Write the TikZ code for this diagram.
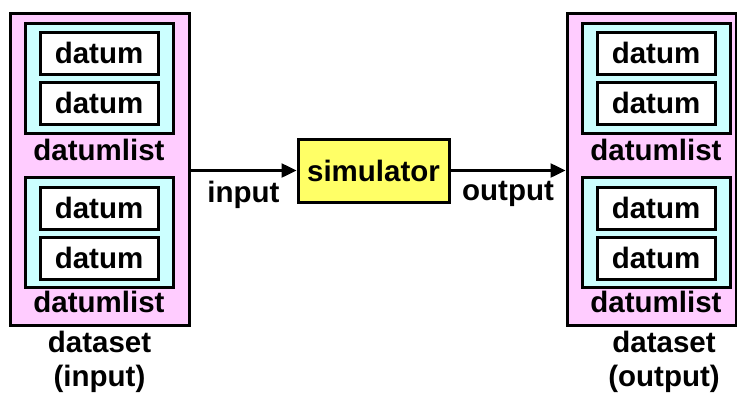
\documentclass[tikz,border=0pt]{standalone}
\usepackage{fontspec}
\setmainfont{Liberation Sans}
\usetikzlibrary{arrows.meta}
\definecolor{setpink}{RGB}{255,204,255}
\definecolor{listcyan}{RGB}{204,255,255}
\definecolor{simyellow}{RGB}{255,255,102}
\begin{document}
\begin{tikzpicture}
  [x=1pt,y=-1pt,every node/.style={font=\bfseries\fontsize{29.5}{34}\selectfont}]
  \tikzstyle{box} = [draw,line width=3pt,inner sep=0pt]
  \tikzstyle{dataset} = [box,fill=setpink,minimum height=312pt]
  \tikzstyle{datumlist} = [box,fill=listcyan,minimum width=148pt,minimum height=110pt]
  \tikzstyle{datum} = [box,fill=white,minimum width=118pt,minimum height=42pt]
  \tikzstyle{flow} = [line width=2.5pt,-{Triangle[length=15pt,width=14pt]}]
  \useasboundingbox (0,0) rectangle (737,394);

  \node[dataset,minimum width=179pt] (setL) at (99.5,169) {};
  \node[dataset,minimum width=169pt] (setR) at (651.5,169) {};

  \foreach \side/\x in {L/99,R/656} {
    \node[datumlist] (listA\side) at (\x,78) {};
    \node[datumlist] (listB\side) at (\x,232) {};
    \foreach \y in {53,103,208,258}
      \node[datum] (d\side\y) at (\x,\y) {datum};
    \node (labA\side) at (\x,150) {datumlist};
    \node (labB\side) at (\x,302) {datumlist};
  }

  \node[align=center] (nameL) at (99.5,362) {dataset\\(input)};
  \node[align=center] (nameR) at (664,362) {dataset\\(output)};

  \node[box,fill=simyellow,minimum width=151pt,minimum height=63pt] (sim) at (373.5,170.5) {simulator};

  \draw[flow] (sim.west -| setL.east) -- node[below=6pt] {input} (sim.west);
  \draw[flow] (sim.east) -- node[below=6pt] {output} (sim.east -| setR.west);
\end{tikzpicture}
\end{document}
